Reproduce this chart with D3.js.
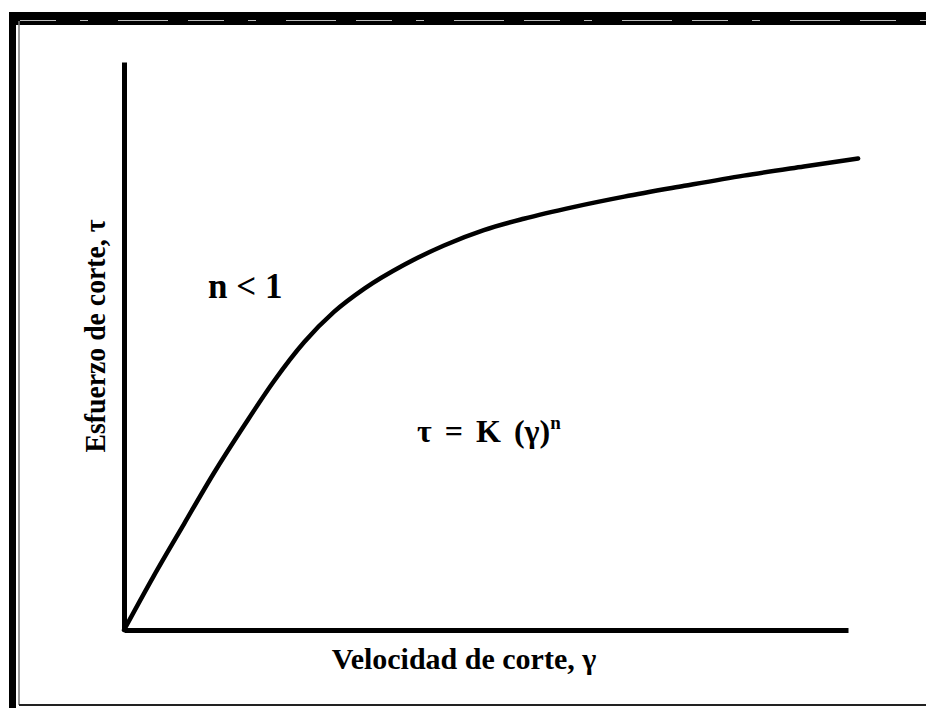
<!DOCTYPE html>
<html>
<head>
<meta charset="utf-8">
<script src="https://cdn.jsdelivr.net/npm/d3@7"></script>
<style>
  html, body { margin: 0; padding: 0; background: #fff; }
  svg { display: block; }
  text { font-family: "Liberation Serif", "Times New Roman", serif; font-weight: bold; fill: #000; }
</style>
</head>
<body>
<div id="chart"></div>
<script>
// Curve (arbitrary units, axes 0..100)
const shearRate = [0, 4.1, 8.3, 12.4, 16.6, 20.7, 24.9, 29.0, 33.2, 38.7, 44.2, 49.7, 55.2, 62.2, 69.1, 77.4, 85.6, 93.9, 101.4];
const shearStress = [0, 9.5, 18.7, 27.6, 36.0, 43.8, 50.7, 56.0, 60.1, 64.3, 67.7, 70.4, 72.4, 74.5, 76.3, 78.2, 80.0, 81.6, 83.0];

const xLabel = "Velocidad de corte, γ";
const yLabel = "Esfuerzo de corte, τ";
const regionLabel = "n < 1";

const width = 926;
const height = 708;
const marginTop = 62;
const marginRight = 78;
const marginBottom = 78;
const marginLeft = 124;

const svg = d3.select("#chart")
    .append("svg")
    .attr("width", width)
    .attr("height", height);

// Frame around the figure (scanned border)
svg.append("rect").attr("x", 9).attr("y", 12).attr("width", width - 9).attr("height", 13).attr("fill", "#000");
svg.append("rect").attr("x", 9).attr("y", 12).attr("width", 7).attr("height", height - 12).attr("fill", "#000");
svg.append("line").attr("x1", 19).attr("x2", 19).attr("y1", 21).attr("y2", 705)
    .attr("stroke", "#777").attr("stroke-width", 1.5);
svg.append("line").attr("x1", 19).attr("x2", width).attr("y1", 705).attr("y2", 705)
    .attr("stroke", "#222").attr("stroke-width", 2);
svg.append("line").attr("x1", 20).attr("x2", width).attr("y1", 20.5).attr("y2", 20.5)
    .attr("stroke", "#bbb").attr("stroke-width", 1).attr("stroke-dasharray", "36 24 8 30 50 20");

const x = d3.scaleLinear().domain([0, 100]).range([marginLeft, width - marginRight]);
const y = d3.scaleLinear().domain([0, 100]).range([height - marginBottom, marginTop]);

// Axes: domain lines only, no ticks
svg.append("g")
    .attr("transform", `translate(0,${y(0)})`)
    .call(d3.axisBottom(x).ticks(0).tickSizeOuter(0))
    .call(g => g.select(".domain").attr("stroke", "#000").attr("stroke-width", 5));

svg.append("g")
    .attr("transform", `translate(${x(0)},0)`)
    .call(d3.axisLeft(y).ticks(0).tickSizeOuter(0))
    .call(g => g.select(".domain").attr("stroke", "#000").attr("stroke-width", 5));

const line = d3.line()
    .x(d => x(d[0]))
    .y(d => y(d[1]))
    .curve(d3.curveMonotoneX);

svg.append("path")
    .datum(d3.zip(shearRate, shearStress))
    .attr("fill", "none")
    .attr("stroke", "#000")
    .attr("stroke-width", 4.5)
    .attr("stroke-linecap", "round")
    .attr("d", line);

// Axis titles
svg.append("text")
    .attr("x", 464)
    .attr("y", 669)
    .attr("text-anchor", "middle")
    .attr("font-size", 30)
    .text(xLabel);

svg.append("text")
    .attr("transform", "translate(105,336) rotate(-90)")
    .attr("text-anchor", "middle")
    .attr("font-size", 30)
    .attr("textLength", 233)
    .attr("lengthAdjust", "spacingAndGlyphs")
    .text(yLabel);

// Annotations
svg.append("text")
    .attr("x", 208)
    .attr("y", 298)
    .attr("font-size", 35)
    .text(regionLabel);

const eq = svg.append("text")
    .attr("x", 417)
    .attr("y", 442)
    .attr("font-size", 32)
    .attr("word-spacing", 5);
eq.append("tspan").text("τ = K (γ)");
eq.append("tspan").attr("dy", -13).attr("font-size", 19).text("n");
</script>
</body>
</html>
